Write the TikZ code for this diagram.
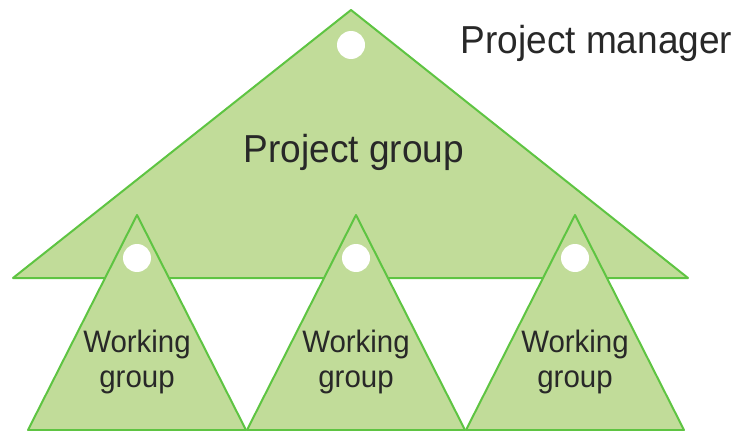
\documentclass[tikz,border=0pt]{standalone}
\usepackage{fontspec}
\setmainfont[FakeStretch=0.95]{Liberation Sans}
\definecolor{groupfill}{RGB}{193,220,153}
\definecolor{groupline}{RGB}{94,196,66}
\definecolor{labeltext}{RGB}{40,40,40}
\tikzset{
  groupshape/.style={fill=groupfill,draw=groupline,line width=2pt,line join=round},
  holedot/.style={fill=white,draw=none},
  biglabel/.style={text=labeltext,font=\fontsize{39}{45}\selectfont},
  smalllabel/.style={text=labeltext,align=center,font=\fontsize{31}{35}\selectfont}
}
\begin{document}
\begin{tikzpicture}[x=1pt,y=-1pt]
  \useasboundingbox (0,0) rectangle (740,431);
  % grosses Dreieck
  \draw[groupshape] (351,10) -- (688,278) -- (13,278) -- cycle;
  \fill[holedot] (351,45) circle (14);
  % kleine Dreiecke
  \foreach \cx/\name in {137/wgone,356/wgtwo,575/wgthree}{
    \draw[groupshape] (\cx,215) -- (\cx+109,430) -- (\cx-109,430) -- cycle;
    \fill[holedot] (\cx,258) circle (14);
    \node[smalllabel] (\name) at (\cx,362) {Working\\group};
  }
  % Beschriftung
  \node[biglabel] (pgroup) at (354,152) {Project group};
  \node[biglabel,anchor=west] (pmanager) at (457,43) {Project manager};
\end{tikzpicture}
\end{document}
